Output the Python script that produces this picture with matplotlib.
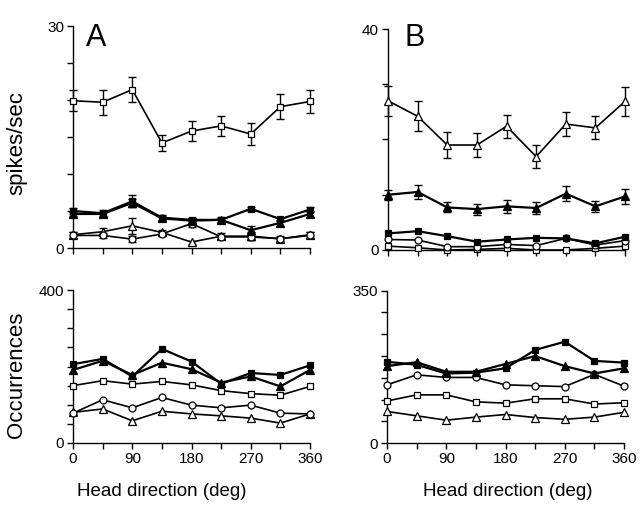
import matplotlib
matplotlib.use("Agg")
import matplotlib.pyplot as plt
from matplotlib import font_manager

# ---------------- data ----------------
head_dir = [0, 45, 90, 135, 180, 225, 270, 315, 360]

# Panel A, spikes/sec
a_open_sq = [19.9, 19.7, 21.4, 14.2, 15.8, 16.5, 15.4, 19.1, 19.8]
a_open_sq_err = [1.4, 1.7, 1.7, 1.1, 1.4, 1.3, 1.5, 1.7, 1.5]
a_fill_sq = [5.0, 4.7, 6.3, 4.1, 3.8, 3.8, 5.3, 3.9, 5.2]
a_fill_sq_err = [0.4, 0.5, 0.8, 0.3, 0.3, 0.3, 0.3, 0.3, 0.3]
a_fill_tri = [4.6, 4.6, 6.1, 4.0, 3.7, 3.8, 2.4, 3.4, 4.6]
a_fill_tri_err = [0.3, 0.3, 0.5, 0.3, 0.3, 0.4, 0.6, 0.4, 0.4]
a_open_circ = [1.7, 1.7, 1.2, 1.9, 3.3, 1.5, 1.5, 1.25, 1.7]
a_open_circ_err = [0.4, 0.3, 0.4, 0.3, 0.4, 0.3, 0.4, 0.4, 0.4]
a_open_tri = [1.8, 2.2, 3.0, 2.1, 0.8, 1.6, 1.6, 1.25, 1.8]
a_open_tri_err = [0.4, 0.5, 1.1, 0.4, 0.2, 0.4, 0.5, 0.3, 0.4]

# Panel B, spikes/sec
b_open_tri = [27.0, 24.2, 19.0, 19.0, 22.4, 16.9, 22.8, 22.1, 26.9]
b_open_tri_err = [2.7, 2.7, 2.4, 2.1, 2.1, 2.1, 2.2, 2.1, 2.6]
b_fill_tri = [10.0, 10.5, 7.7, 7.4, 7.9, 7.6, 10.2, 7.9, 9.7]
b_fill_tri_err = [0.9, 1.3, 0.9, 1.0, 1.2, 1.0, 1.3, 1.0, 1.3]
b_fill_sq = [3.0, 3.4, 2.5, 1.5, 1.9, 2.2, 2.1, 1.2, 2.4]
b_open_circ = [1.9, 1.8, 0.6, 0.6, 1.0, 0.8, 2.1, 0.9, 1.7]
b_open_sq = [0.7, 0.4, 0.0, 0.1, 0.3, 0.0, 0.0, 0.3, 0.7]

# Panel A, occurrences
ao_fill_sq = [206, 220, 174, 246, 213, 155, 183, 178, 203]
ao_fill_tri = [191, 215, 178, 210, 193, 158, 174, 148, 191]
ao_open_sq = [150, 163, 154, 161, 152, 137, 129, 125, 148]
ao_open_circ = [78, 113, 92, 119, 99, 92, 99, 78, 76]
ao_open_tri = [80, 89, 58, 83, 76, 71, 65, 52, 76]

# Panel B, occurrences
bo_fill_sq = [187, 180, 160, 162, 172, 214, 233, 189, 185]
bo_fill_tri = [177, 186, 164, 164, 182, 200, 177, 160, 172]
bo_open_circ = [134, 157, 151, 151, 134, 132, 130, 158, 131]
bo_open_sq = [97, 111, 111, 95, 92, 102, 102, 90, 93]
bo_open_tri = [73, 63, 53, 60, 66, 59, 55, 60, 71]

# ---------------- style ----------------
avail = {f.name for f in font_manager.fontManager.ttflist}
reg = "Liberation Sans" if "Liberation Sans" in avail else "DejaVu Sans"
plt.rcParams["font.family"] = [reg, "DejaVu Sans"]

STY = {
    "fsq": dict(marker="s", ms=5.0, mfc="black", mec="black", lw=1.6),
    "ftri": dict(marker="^", ms=5.5, mfc="black", mec="black", lw=1.6),
    "osq": dict(marker="s", ms=5.0, mfc="white", mec="black", lw=1.2),
    "ocirc": dict(marker="o", ms=5.0, mfc="white", mec="black", lw=1.2),
    "otri": dict(marker="^", ms=5.5, mfc="white", mec="black", lw=1.2),
}

fig = plt.figure(figsize=(6.4, 5.08), dpi=100)

def make_ax(rect, ymax, ystep, show_xlabels):
    ax = fig.add_axes(rect)
    ax.set_xlim(0, 360)
    ax.set_ylim(0, ymax)
    for s in ("top", "right"):
        ax.spines[s].set_visible(False)
    for s in ("left", "bottom"):
        ax.spines[s].set_linewidth(1.0)
    ax.set_xticks(head_dir)
    if show_xlabels:
        ax.set_xticklabels([str(v) if i % 2 == 0 else "" for i, v in enumerate(head_dir)])
    else:
        ax.set_xticklabels([""] * len(head_dir))
    yt = list(range(0, ymax + 1, ystep))
    ax.set_yticks(yt)
    ax.set_yticklabels([str(v) if v in (0, ymax) else "" for v in yt])
    ax.tick_params(direction="out", length=4.5, width=1.0, labelsize=11, pad=2)
    return ax

def draw(ax, y, key, err=None, z=3):
    st = dict(STY[key])
    lw = st.pop("lw")
    if err is not None:
        ax.errorbar(head_dir, y, yerr=err, fmt="none", ecolor="black",
                    elinewidth=1.0, capsize=3, capthick=1.0, zorder=z, clip_on=False)
    ax.plot(head_dir, y, color="black", lw=lw, mew=0.9, zorder=z + 0.5,
            clip_on=False, **st)

# Top A
axA = make_ax([0.1141, 0.5118, 0.3703, 0.437], 30, 5, False)
draw(axA, a_open_tri, "otri", a_open_tri_err, 3)
draw(axA, a_open_circ, "ocirc", a_open_circ_err, 3.2)
draw(axA, a_fill_tri, "ftri", a_fill_tri_err, 4)
draw(axA, a_fill_sq, "fsq", a_fill_sq_err, 4.2)
draw(axA, a_open_sq, "osq", a_open_sq_err, 5)

# Top B
axB = make_ax([0.6063, 0.5079, 0.3703, 0.435], 40, 10, False)
draw(axB, b_open_sq, "osq", None, 3)
draw(axB, b_open_circ, "ocirc", None, 3.2)
draw(axB, b_fill_sq, "fsq", None, 4)
draw(axB, b_fill_tri, "ftri", b_fill_tri_err, 4.2)
draw(axB, b_open_tri, "otri", b_open_tri_err, 5)

# Bottom A
axC = make_ax([0.1141, 0.128, 0.3703, 0.301], 400, 50, True)
draw(axC, ao_open_tri, "otri", None, 3)
draw(axC, ao_open_circ, "ocirc", None, 3.2)
draw(axC, ao_open_sq, "osq", None, 3.4)
draw(axC, ao_fill_tri, "ftri", None, 4)
draw(axC, ao_fill_sq, "fsq", None, 4.2)

# Bottom B
axD = make_ax([0.6047, 0.1274, 0.3703, 0.3004], 350, 50, True)
draw(axD, bo_open_tri, "otri", None, 3)
draw(axD, bo_open_sq, "osq", None, 3.2)
draw(axD, bo_open_circ, "ocirc", None, 3.4)
draw(axD, bo_fill_tri, "ftri", None, 4)
draw(axD, bo_fill_sq, "fsq", None, 4.2)

# Labels
fig.text(17 / 640, 1 - 143 / 508, "spikes/sec", rotation=90, ha="center", va="center",
         fontsize=16)
fig.text(17 / 640, 1 - 375 / 508, "Occurrences", rotation=90, ha="center", va="center",
         fontsize=16)
fig.text(162 / 640, 1 - 492 / 508, "Head direction (deg)", ha="center", va="center",
         fontsize=13.5)
fig.text(508 / 640, 1 - 492 / 508, "Head direction (deg)", ha="center", va="center",
         fontsize=13.5)
fig.text(96 / 640, 1 - 38 / 508, "A", ha="center", va="center", fontsize=22)
fig.text(415 / 640, 1 - 38 / 508, "B", ha="center", va="center", fontsize=22)

fig.savefig("out.png", dpi=100)
